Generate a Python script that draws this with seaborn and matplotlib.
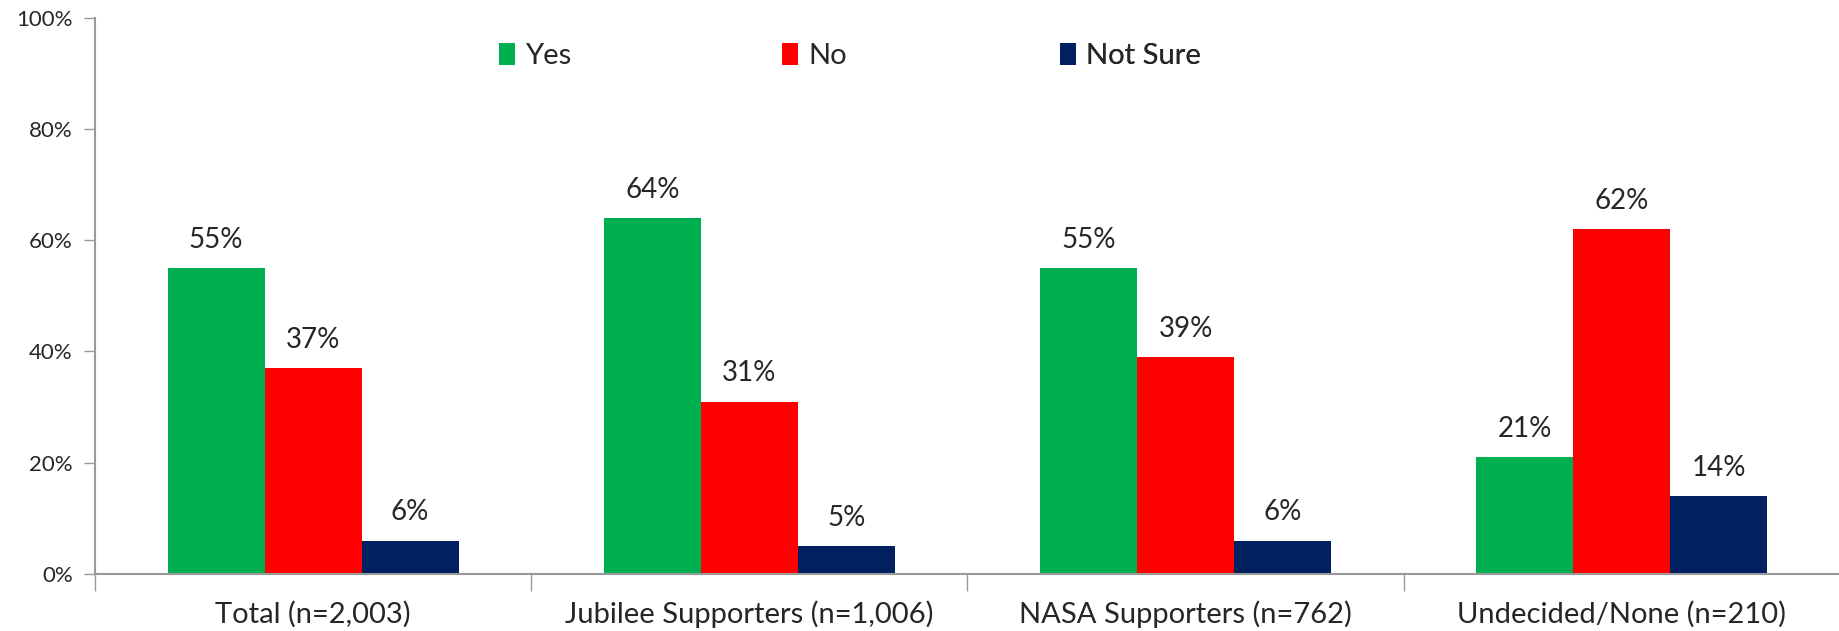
import numpy as np
import pandas as pd
import matplotlib
matplotlib.use('Agg')
import matplotlib.pyplot as plt
import seaborn as sns

groups = ['Total (n=2,003)', 'Jubilee Supporters (n=1,006)', 'NASA Supporters (n=762)', 'Undecided/None (n=210)']
answers = ['Yes', 'No', 'Not Sure']
yes_vals = [55, 64, 55, 21]
no_vals = [37, 31, 39, 62]
notsure_vals = [6, 5, 6, 14]
colors = ['#00B050', '#FF0000', '#002060']

rows = []
for i, g in enumerate(groups):
    rows.append((g, 'Yes', yes_vals[i]))
    rows.append((g, 'No', no_vals[i]))
    rows.append((g, 'Not Sure', notsure_vals[i]))
df = pd.DataFrame(rows, columns=['group', 'answer', 'pct'])

sns.set_style('white')
plt.rcParams['font.family'] = ['Lato', 'DejaVu Sans']

fig = plt.figure(figsize=(18.4, 6.31), dpi=100)
ax = fig.add_axes([0.0516, 0.0903, 0.9484, 0.8817])

sns.barplot(data=df, x='group', y='pct', hue='answer', hue_order=answers,
            palette=colors, width=0.667, gap=0, saturation=1, linewidth=0,
            ax=ax, legend=True)

for cont in ax.containers:
    ax.bar_label(cont, fmt='%d%%', padding=11, fontsize=20)

ax.set_ylim(0, 100)
ax.set_xlim(-0.5, 3.5)
ax.set_yticks(np.arange(0, 101, 20))
ax.set_yticklabels(['%d%%' % v for v in range(0, 101, 20)], fontsize=16)
ax.set_xlabel('')
ax.set_ylabel('')

# category labels at centers, tick marks at boundaries
ax.set_xticks(np.arange(-0.5, 4.0, 1.0))
ax.set_xticklabels([])
ax.set_xticks(np.arange(len(groups)), minor=True)
ax.set_xticklabels(groups, minor=True, fontsize=21)
ax.tick_params(axis='x', which='major', length=12, width=1, color='#999999', direction='out', bottom=True)
ax.tick_params(axis='x', which='minor', length=0, pad=19)
ax.tick_params(axis='y', length=8, width=1, color='#999999', direction='out', left=True, pad=8)

for side in ['top', 'right']:
    ax.spines[side].set_visible(False)
for side in ['left', 'bottom']:
    ax.spines[side].set_color('#999999')
    ax.spines[side].set_linewidth(1.5)

# legend: evenly spaced entries like the excel one
handles, labels = ax.get_legend_handles_labels()
ax.get_legend().remove()
leg_x = [0.2315, 0.3937, 0.553]
for h, l, xpos in zip(handles, labels, leg_x):
    lg = ax.legend([h], [l], loc='center left', bbox_to_anchor=(xpos, 0.931), frameon=False,
                   fontsize=21, handlelength=0.55, handleheight=0.8, handletextpad=0.35,
                   borderpad=0, borderaxespad=0)
    ax.add_artist(lg)

fig.savefig('out.png', dpi=100)
